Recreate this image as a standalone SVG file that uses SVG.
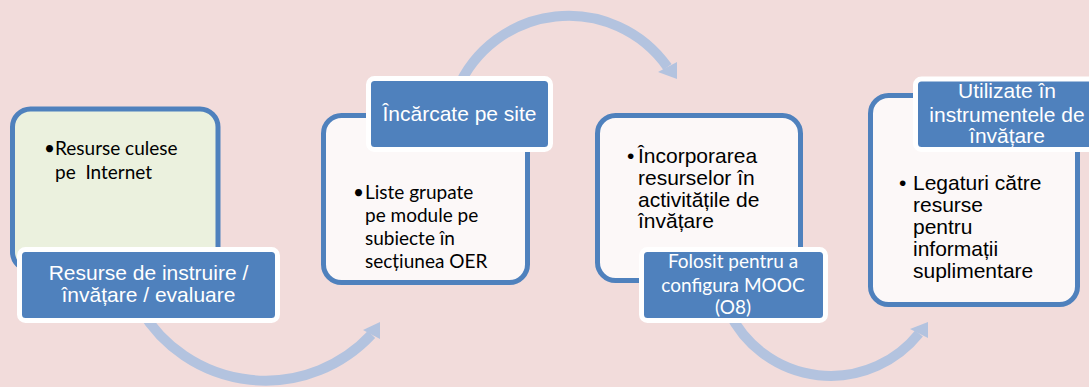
<svg xmlns="http://www.w3.org/2000/svg" width="1089" height="387" viewBox="0 0 1089 387">
<style>
.box{stroke:#4F81BD;stroke-width:5}
.lbl{fill:#4F81BD;stroke:#FFFFFF;stroke-width:5}
.arc{fill:none;stroke:#B3C3DF;stroke-width:10}
.head{fill:#B3C3DF}
.ta{font-family:"Liberation Sans",Arial,sans-serif;font-size:21px}
.tc{font-family:Lato,"Liberation Sans",sans-serif;font-size:19px}
.w{fill:#FFFFFF;text-anchor:middle}
.k{fill:#000000}
</style>
<rect width="1089" height="387" fill="#F2DCDB"/>
<g id="connectors">
<path class="arc" d="M141 310 A145 145 0 0 0 371.5 334.5"/>
<polygon class="head" points="363,330 380,339 380,322"/>
<path class="arc" d="M457 90 A121 121 0 0 1 667.5 67"/>
<polygon class="head" points="658,72 677,62 677,79"/>
<path class="arc" d="M729 312 A113 113 0 0 0 919 333.5"/>
<polygon class="head" points="910,329 928,338 928,322"/>
</g>
<g id="node1">
<rect class="box" x="12.5" y="109" width="205.5" height="161" rx="18" fill="#EBF1DE"/>
<text class="tc k" x="44" y="155">•</text>
<text class="tc k" x="55" y="155">Resurse culese</text>
<text class="tc k" x="55" y="179" xml:space="preserve">pe  Internet</text>
<rect class="lbl" x="19.5" y="249.5" width="258" height="71" rx="6"/>
<text class="ta w" x="148.5" y="279.5">Resurse de instruire /</text>
<text class="ta w" x="148.5" y="301.5">învățare / evaluare</text>
</g>
<g id="node2">
<rect class="box" x="323.5" y="115.5" width="204" height="167" rx="18" fill="#FCF8F8"/>
<rect class="lbl" x="368.5" y="78.5" width="182" height="71" rx="6"/>
<text class="ta w" x="459.5" y="121">Încărcate pe site</text>
<text class="tc k" x="353" y="199">•</text>
<text class="tc k" x="365" y="199">Liste grupate</text>
<text class="tc k" x="365" y="222">pe module pe</text>
<text class="tc k" x="365" y="245">subiecte în</text>
<text class="tc k" x="365" y="268">secțiunea OER</text>
</g>
<g id="node3">
<rect class="box" x="597.5" y="115.5" width="203" height="165" rx="18" fill="#FCF8F8"/>
<text class="ta k" x="627" y="163">•</text>
<text class="ta k" x="638" y="163">Încorporarea</text>
<text class="ta k" x="638" y="185">resurselor în</text>
<text class="ta k" x="638" y="206.5">activitățile de</text>
<text class="ta k" x="638" y="227.5">învățare</text>
<rect class="lbl" x="641.5" y="249.5" width="184" height="71" rx="6"/>
<text class="tc w" x="733" y="268">Folosit pentru a</text>
<text class="tc w" x="733" y="291.5">configura MOOC</text>
<text class="tc w" x="733" y="314">(O8)</text>
</g>
<g id="node4">
<rect class="box" x="870.5" y="95.5" width="207" height="209" rx="18" fill="#FCF8F8"/>
<rect class="lbl" x="915.5" y="79" width="183" height="70.5" rx="6"/>
<text class="ta w" x="1007" y="98">Utilizate în</text>
<text class="ta w" x="1007" y="121.5">instrumentele de</text>
<text class="ta w" x="1007" y="142.5">învățare</text>
<text class="ta k" x="899" y="190">•</text>
<text class="ta k" x="913" y="190">Legaturi către</text>
<text class="ta k" x="913" y="211.5">resurse</text>
<text class="ta k" x="913" y="233.5">pentru</text>
<text class="ta k" x="913" y="256">informații</text>
<text class="ta k" x="913" y="278">suplimentare</text>
</g>
</svg>
